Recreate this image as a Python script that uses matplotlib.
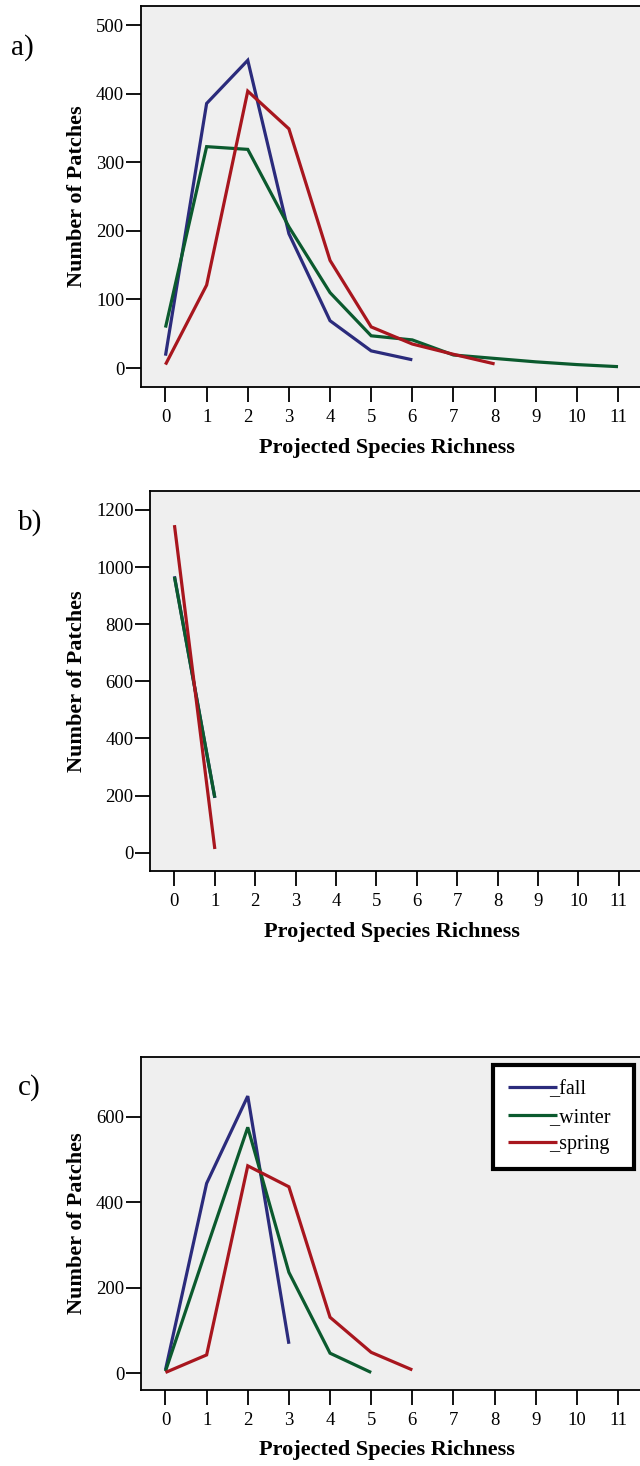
import matplotlib
matplotlib.use("Agg")
import matplotlib.pyplot as plt

plt.rcParams['font.family'] = ['Liberation Serif', 'DejaVu Serif']

richness = list(range(12))
tick_labels = [str(i) for i in richness]

# Panel a
a_fall = [18, 386, 449, 196, 69, 25, 12]
a_winter = [59, 323, 319, 206, 110, 47, 41, 19, 14, 9, 5, 2]
a_spring = [5, 121, 404, 349, 157, 60, 35, 20, 6]
# Panel b
b_fall = [968, 192]
b_winter = [966, 193]
b_spring = [1147, 13]
# Panel c
c_fall = [8, 444, 648, 69]
c_winter = [5, 292, 575, 236, 47, 2]
c_spring = [2, 43, 485, 436, 131, 49, 8]

series_names = ['_fall', '_winter', '_spring']
colors = ['#2b2b7c', '#0b5a2e', '#a8161e']

W, H = 640, 1466
fig = plt.figure(figsize=(W / 100, H / 100), dpi=100)


def make_axes(left, right, top, bottom):
    return fig.add_axes([left / W, 1 - bottom / H, (right - left) / W, (bottom - top) / H])


panels = [
    dict(box=(140.8, 642.7, 6, 387), ylim=(-27.7, 528.2), yticks=[0, 100, 200, 300, 400, 500],
         data=[a_fall, a_winter, a_spring], label='a)', lpos=(11, 54.5), xlc=387),
    dict(box=(150.2, 643.0, 490.7, 871), ylim=(-64, 1267.5), yticks=[0, 200, 400, 600, 800, 1000, 1200],
         data=[b_fall, b_winter, b_spring], label='b)', lpos=(18, 530), xlc=392),
    dict(box=(140.8, 642.7, 1057.3, 1390), ylim=(-39, 738.7), yticks=[0, 200, 400, 600],
         data=[c_fall, c_winter, c_spring], label='c)', lpos=(18, 1095), xlc=387),
]

axes = []
handles_c = []
for p in panels:
    l, r, t, b = p['box']
    ax = make_axes(l, r, t, b)
    ax.set_facecolor('#efefef')
    hs = []
    for name, col, vals in zip(series_names, colors, p['data']):
        h, = ax.plot(richness[:len(vals)], vals, color=col, lw=2.3,
                     solid_capstyle='butt', solid_joinstyle='miter')
        hs.append(h)
    handles_c = hs
    ax.set_xlim(-0.6, 11.6)
    ax.set_ylim(*p['ylim'])
    ax.set_xticks(richness)
    ax.set_xticklabels(tick_labels)
    ax.set_yticks(p['yticks'])
    ax.tick_params(axis='both', direction='out', length=11, width=1.3, labelsize=13.5, colors='black')
    ax.tick_params(axis='y', pad=1)
    ax.tick_params(axis='x', pad=4.5)
    for s in ax.spines.values():
        s.set_linewidth(1.3)
    ax.set_xlabel('Projected Species Richness', fontsize=16, fontweight='bold')
    ax.xaxis.set_label_coords((p['xlc'] - l) / (r - l), -50.5 / (b - t))
    ax.set_ylabel('Number of Patches', fontsize=16, fontweight='bold')
    ax.yaxis.set_label_coords((86.5 - l) / (r - l), 0.5)
    fig.text(p['lpos'][0] / W, 1 - p['lpos'][1] / H, p['label'], fontsize=21, ha='left', va='baseline')
    axes.append(ax)

ax = axes[2]
l, r, t, b = panels[2]['box']
x0 = (492.7 - l) / (r - l)
x1 = (634.0 - l) / (r - l)
y1 = (b - 1065) / (b - t)
y0 = (b - 1170) / (b - t)
leg = ax.legend(handles_c, series_names, loc='upper left',
                bbox_to_anchor=(x0, y0, x1 - x0, y1 - y0), mode='expand',
                borderaxespad=0, fontsize=14.5, handlelength=2.45, handletextpad=-0.4,
                labelspacing=0.42, borderpad=0.75, fancybox=False, framealpha=1, edgecolor='black')
leg.get_frame().set_linewidth(3)

fig.savefig('out.png', dpi=100)
